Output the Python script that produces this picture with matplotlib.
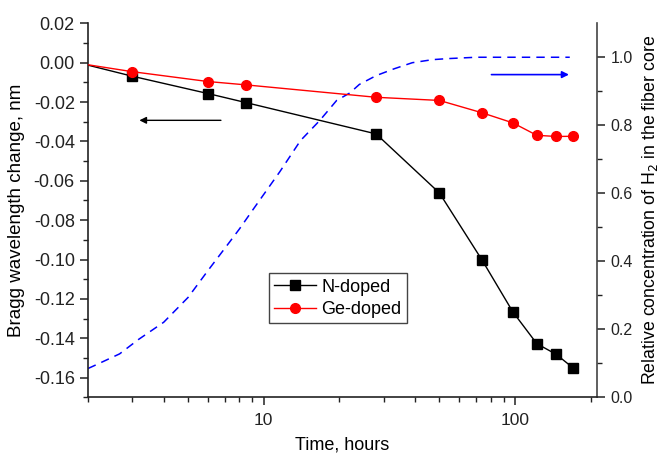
import matplotlib
matplotlib.use("Agg")
import matplotlib.pyplot as plt
from matplotlib.ticker import MultipleLocator, LogLocator, NullFormatter, FixedLocator, FixedFormatter

plt.rcParams['font.family'] = ['Liberation Sans', 'DejaVu Sans']
plt.rcParams['axes.unicode_minus'] = False

# Data (time in hours; first point at t=1 lies outside the visible range)
t_n = [1, 3, 6, 8.5, 28, 50, 74, 98, 122, 146, 170]
shift_n = [0.0083, -0.0069, -0.0157, -0.0203, -0.0362, -0.0662, -0.1004, -0.1266, -0.1427, -0.1482, -0.1550]

t_ge = [1, 3, 6, 8.5, 28, 50, 74, 98, 122, 146, 170]
shift_ge = [0.0049, -0.0046, -0.0096, -0.0113, -0.0176, -0.0192, -0.0255, -0.0306, -0.0369, -0.0375, -0.0374]

t_h2 = [2, 2.2, 2.67, 3.17, 4, 5, 6, 7.3, 8, 9, 11, 11.6, 14, 16.7, 19.5, 22, 24, 28, 33, 39, 47, 54, 70, 100, 165]
conc_h2 = [0.085, 0.099, 0.128, 0.170, 0.221, 0.294, 0.373, 0.456, 0.495, 0.549, 0.64, 0.664, 0.755,
           0.814, 0.873, 0.895, 0.920, 0.946, 0.966, 0.984, 0.993, 0.996, 1.0, 1.0, 1.0]

fig = plt.figure(figsize=(6.62, 4.53), dpi=100)
ax = fig.add_axes([0.133, 0.1227, 0.769, 0.826])
ax2 = ax.twinx()

ax.plot(t_n, shift_n, color='black', lw=1.0, marker='s', ms=6.5, label='N-doped', zorder=3)
ax.plot(t_ge, shift_ge, color='red', lw=1.0, marker='o', ms=7, label='Ge-doped', zorder=3)
ax2.plot(t_h2, conc_h2, color='blue', lw=1.1, ls=(0, (5.5, 4)))

ax.set_xscale('log')
ax.set_xlim(2, 212)
ax.set_ylim(-0.17, 0.02)
ax2.set_ylim(0, 1.1)

ax.xaxis.set_major_locator(FixedLocator([10, 100]))
ax.xaxis.set_major_formatter(FixedFormatter(['10', '100']))
ax.xaxis.set_minor_locator(LogLocator(base=10, subs=range(2, 10), numticks=20))
ax.xaxis.set_minor_formatter(NullFormatter())

ax.yaxis.set_major_locator(MultipleLocator(0.02))
ax.yaxis.set_minor_locator(MultipleLocator(0.01))
ax.yaxis.set_major_formatter(plt.FuncFormatter(lambda v, p: f"{v:.2f}".replace('-0.00', '0.00')))
ax2.yaxis.set_major_locator(FixedLocator([0, 0.2, 0.4, 0.6, 0.8, 1.0]))
ax2.yaxis.set_major_formatter(FixedFormatter(['0.0', '0.2', '0.4', '0.6', '0.8', '1.0']))
ax2.yaxis.set_minor_locator(FixedLocator([0.1, 0.3, 0.5, 0.7, 0.9]))

for a in (ax, ax2):
    a.spines['top'].set_visible(False)
    for s in a.spines.values():
        s.set_linewidth(1.2)
        s.set_color('#222222')
    a.tick_params(which='major', direction='out', length=6, width=1.1, colors='#222222', labelcolor='#222222')
    a.tick_params(which='minor', direction='out', length=3.5, width=1.0, colors='#222222')
ax.spines['right'].set_visible(False)
ax2.spines['left'].set_visible(False)
ax2.spines['bottom'].set_visible(False)
ax2.spines['right'].set_color('#444444')
ax.tick_params(axis='y', labelsize=13)
ax.tick_params(axis='x', labelsize=12.5, pad=5)
ax2.tick_params(axis='y', labelsize=11.5)

ax.set_xlabel('Time, hours', fontsize=13, labelpad=6)
ax.set_ylabel('Bragg wavelength change, nm', fontsize=13.5, labelpad=6)
ax2.set_ylabel('Relative concentration of H$_2$ in the fiber core', fontsize=12.8, labelpad=5)

ax.annotate('', xy=(3.12, -0.0293), xytext=(6.93, -0.0293),
            arrowprops=dict(arrowstyle='-|>', color='black', lw=1.0, mutation_scale=10))
ax2.annotate('', xy=(168, 0.949), xytext=(78.5, 0.949),
             arrowprops=dict(arrowstyle='-|>', color='blue', lw=1.2, mutation_scale=10))

ax.set_zorder(ax2.get_zorder() + 1)
ax.patch.set_visible(False)

leg = ax.legend(loc='upper left', bbox_to_anchor=(0.355, 0.332), fontsize=13, frameon=True,
                fancybox=False, edgecolor='#444444', framealpha=1, borderpad=0.3,
                handlelength=2.3, handletextpad=0.3, labelspacing=0.3, borderaxespad=0)
leg.get_frame().set_linewidth(1.0)

fig.savefig('out.png', dpi=100)
